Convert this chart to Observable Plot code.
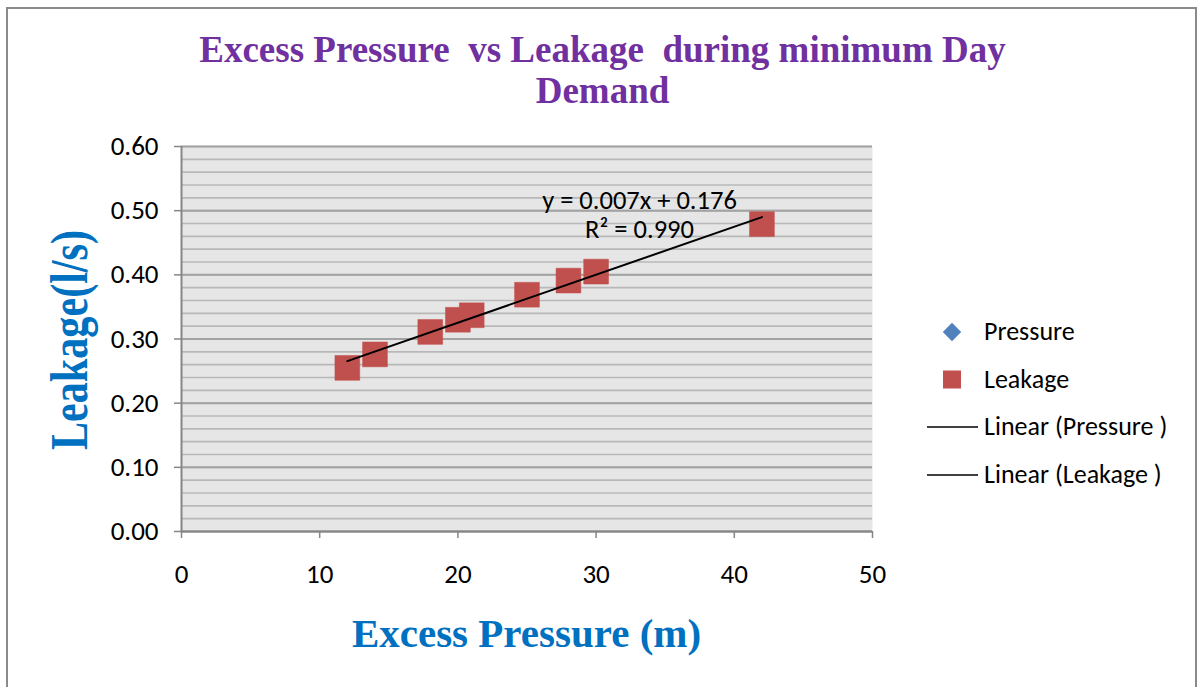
<!DOCTYPE html>
<html>
<head>
<meta charset="utf-8">
<script src="https://cdn.jsdelivr.net/npm/d3@7"></script>
<script src="https://cdn.jsdelivr.net/npm/@observablehq/plot@0.6"></script>
<style>
  html, body { margin: 0; padding: 0; background: #fff; overflow: hidden; }
  #chart { position: relative; width: 1200px; height: 687px; overflow: hidden; }
  #chart svg { position: absolute; left: 0; top: 0; }
  #border { position: absolute; left: 6px; top: 7px; width: 1191px; height: 720px;
            border: 2px solid #8a8a8a; box-sizing: border-box; pointer-events: none; }
</style>
</head>
<body>
<div id="chart"><div id="border"></div></div>
<script>
// Excess pressure (m) and measured leakage (l/s) during minimum day demand
const pressure = [12, 14, 18, 20, 21, 25, 28, 30, 42];
const leakage  = [0.255, 0.276, 0.311, 0.330, 0.337, 0.369, 0.391, 0.405, 0.479];

const xTicks = [0, 10, 20, 30, 40, 50];
const yTicks = [0, 0.1, 0.2, 0.3, 0.4, 0.5, 0.6];
const yMinor = d3.range(0, 31).map(i => i / 50); // light gridlines every 0.02

const titleLines = ["Excess Pressure  vs Leakage  during minimum Day", "Demand"];
const xTitle = "Excess Pressure (m)";
const yTitle = "Leakage(l/s)";
const legendItems = ["Pressure", "Leakage", "Linear (Pressure )", "Linear (Leakage )"];

const points = pressure.map((p, i) => ({pressure: p, leakage: leakage[i]}));

// Least-squares fit of leakage on pressure, for the trendline label
const mx = d3.mean(pressure), my = d3.mean(leakage);
const sxy = d3.sum(pressure, (x, i) => (x - mx) * (leakage[i] - my));
const sxx = d3.sum(pressure, x => (x - mx) ** 2);
const syy = d3.sum(leakage, y => (y - my) ** 2);
const slope = sxy / sxx;
const intercept = my - slope * mx;
const r2 = (sxy * sxy) / (sxx * syy);
const fitLabel = `y = ${slope.toFixed(3)}x + ${intercept.toFixed(3)}\nR² = ${r2.toFixed(3)}`;

const sansFont = "Carlito, Calibri, 'Open Sans', sans-serif";
const serifFont = "'Liberation Serif', 'Times New Roman', serif";
const axisGray = "#868686";

const chart = Plot.plot({
  width: 1200,
  height: 687,
  marginLeft: 181,
  marginRight: 328,
  marginTop: 146,
  marginBottom: 156,
  style: {fontFamily: sansFont, background: "transparent", color: "#000", overflow: "visible"},
  x: {domain: [0, 50], axis: null},
  y: {domain: [0, 0.6], axis: null},
  marks: [
    Plot.frame({fill: "#e6e6e6", stroke: "none"}),
    Plot.gridY(yMinor, {stroke: "#b8b8b8", strokeOpacity: 1, strokeWidth: 1.6}),
    Plot.gridY(yTicks, {stroke: "#a3a3a3", strokeOpacity: 1, strokeWidth: 2}),
    Plot.ruleX([0], {stroke: axisGray, strokeWidth: 2}),
    Plot.ruleY([0], {stroke: axisGray, strokeWidth: 2}),
    Plot.axisY(yTicks, {
      tickSize: 7, tickPadding: 16, tickFormat: d3.format(".2f"),
      stroke: axisGray, strokeWidth: 1.5, fill: "#000", fontSize: 27, label: null
    }),
    Plot.axisX(xTicks, {
      tickSize: 7, tickPadding: 25,
      stroke: axisGray, strokeWidth: 1.5, fill: "#000", fontSize: 27, label: null
    }),
    Plot.dot(points, {
      x: "pressure", y: "leakage", symbol: "square", r: 14,
      fill: "#c0504d", stroke: "#c24e4b", strokeWidth: 0.5
    }),
    Plot.linearRegressionY(points, {x: "pressure", y: "leakage", ci: 0, stroke: "#000", strokeWidth: 2}),
    Plot.text([fitLabel], {
      frameAnchor: "top-left", dx: 458, dy: 42,
      textAnchor: "middle", lineAnchor: "top", lineHeight: 1.1,
      fontSize: 26.5, fill: "#000"
    })
  ]
});

document.getElementById("chart").prepend(chart);

// Titles and legend drawn into the same SVG
const svg = d3.select(chart);

const title = svg.append("g")
  .attr("fill", "#7030a0")
  .attr("font-family", serifFont)
  .attr("font-weight", "bold")
  .attr("font-size", 37)
  .attr("text-anchor", "middle")
  .style("white-space", "pre");
titleLines.forEach((line, i) => {
  title.append("text").attr("x", 602.5).attr("y", 62 + i * 41).text(line);
});

svg.append("text")
  .attr("x", 526.5).attr("y", 647)
  .attr("fill", "#0070c0")
  .attr("font-family", serifFont)
  .attr("font-weight", "bold")
  .attr("font-size", 41)
  .attr("text-anchor", "middle")
  .text(xTitle);

svg.append("text")
  .attr("transform", "translate(87,340) rotate(-90)")
  .attr("fill", "#0070c0")
  .attr("font-family", serifFont)
  .attr("font-weight", "bold")
  .attr("font-size", 52)
  .attr("text-anchor", "middle")
  .attr("textLength", 220)
  .attr("lengthAdjust", "spacingAndGlyphs")
  .text(yTitle);

const legend = svg.append("g")
  .attr("font-family", sansFont)
  .attr("font-size", 26)
  .attr("text-anchor", "start")
  .style("white-space", "pre");
const rowY = [332, 379.5, 427, 475];
legend.append("path")
  .attr("transform", `translate(952,${rowY[0]}) rotate(45)`)
  .attr("d", "M-6.5,-6.5H6.5V6.5H-6.5Z")
  .attr("fill", "#4f81bd");
legend.append("rect")
  .attr("x", 943).attr("y", rowY[1] - 9).attr("width", 18).attr("height", 18)
  .attr("fill", "#c0504d");
[2, 3].forEach(i => {
  legend.append("line")
    .attr("x1", 927).attr("x2", 978).attr("y1", rowY[i]).attr("y2", rowY[i])
    .attr("stroke", "#000").attr("stroke-width", 1.5);
});
legendItems.forEach((label, i) => {
  legend.append("text").attr("x", 984).attr("y", rowY[i] + 8).attr("fill", "#000").text(label);
});
</script>
</body>
</html>
